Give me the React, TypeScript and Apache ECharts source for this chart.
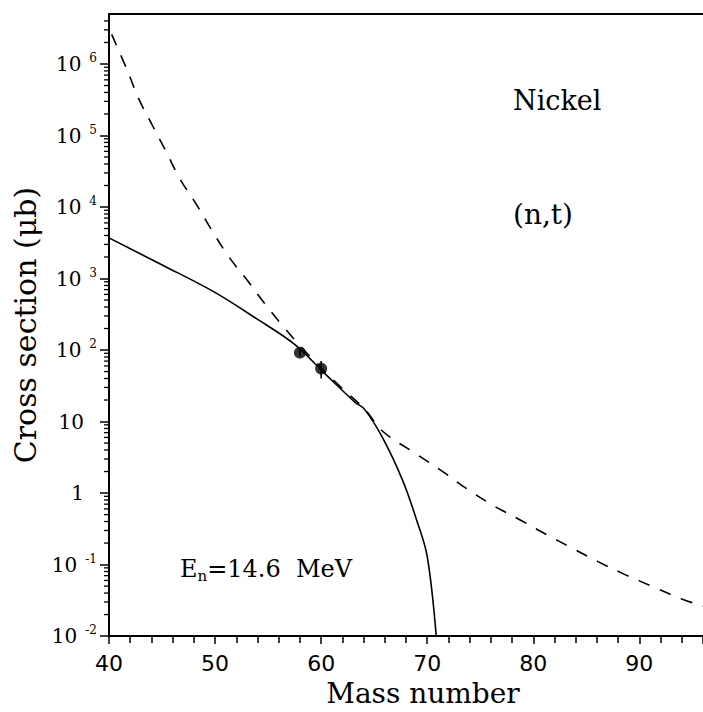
import React, { useEffect, useRef } from "react";
import * as echarts from "echarts";

// Mass number axis
const massMin = 40;
const massMax = 96;
const massInterval = 10;

// Cross section axis (µb, logarithmic)
const sigmaMin = 0.01;
const sigmaMax = 5e6;

// Full calculation (solid line)
const solidMass = [40, 45.2, 49.9, 53.9, 57.5, 60.4, 63.2, 64.1, 65.8, 67.7, 69.0, 70.0, 70.85];
const solidSigma = [3700, 1500, 650, 275, 120, 46, 18.6, 14.8, 5.9, 1.48, 0.42, 0.13, 0.01];

// Systematics (dashed line)
const dashMass = [40.25, 41.7, 42.83, 44.1, 45.4, 46.67, 48.27, 49.7, 51.31, 53.07, 54.66, 56.41, 58, 60, 62, 64.1, 65.85, 69.0, 71.6, 73.8, 76.3, 78.9, 81.4, 83.6, 86.1, 88.6, 91.3, 94.0, 96.5];
const dashSigma = [2.6e6, 8.3e5, 3.2e5, 1.38e5, 5.9e4, 2.5e4, 1.07e4, 4700, 2000, 930, 450, 215, 115, 56, 29, 15, 7.2, 3.5, 1.93, 1.13, 0.66, 0.41, 0.255, 0.172, 0.11, 0.073, 0.049, 0.033, 0.025];

// Measured points with uncertainties
const expMass = [58, 60];
const expSigma = [92, 55];
const expLow = [82, 40];
const expHigh = [102, 70];

// Minor tick positions within each decade
const minorMultipliers = [2, 3, 4, 5, 6, 7, 8, 9];
const decadeExponents = [-2, -1, 0, 1, 2, 3, 4, 5, 6];

const serif = "'DejaVu Serif', 'Liberation Serif', serif";
const sans = "'DejaVu Sans', 'Liberation Sans', sans-serif";

export default function App() {
  const ref = useRef<HTMLDivElement>(null);

  useEffect(() => {
    if (!ref.current) return;
    const chart = echarts.init(ref.current, undefined, { renderer: "svg" });

    const minorTicks: number[][] = [];
    decadeExponents.forEach((e) => {
      minorMultipliers.forEach((m) => {
        const v = m * Math.pow(10, e);
        if (v < sigmaMax) minorTicks.push([massMin, v]);
      });
    });

    const labelFormatter = (value: number) => {
      const lg = Math.log10(value);
      const e = Math.round(lg);
      if (Math.abs(lg - e) > 1e-6) return "";
      if (e === 0) return "{n|1}";
      if (e === 1) return "{n|10}";
      return "{b|10}{e|" + (e < 0 ? "-" + -e : String(e)) + "}";
    };

    chart.setOption({
      animation: false,
      backgroundColor: "#ffffff",
      grid: {
        left: 109,
        top: 14,
        right: 0,
        bottom: 68,
      },
      xAxis: [
        {
          type: "value",
          min: massMin,
          max: massMax,
          interval: massInterval,
          name: "Mass number",
          nameLocation: "middle",
          nameGap: 42,
          nameTextStyle: { fontFamily: serif, fontSize: 28, color: "#000", padding: [0, 0, 0, 34] },
          axisLine: { lineStyle: { color: "#000", width: 2 } },
          axisTick: { length: 8, lineStyle: { color: "#000", width: 1.5 } },
          minorTick: { show: true, splitNumber: 5, length: 7, lineStyle: { color: "#000", width: 1.5 } },
          splitLine: { show: false },
          axisLabel: {
            margin: 16,
            fontFamily: sans,
            fontSize: 22,
            color: "#000",
            showMaxLabel: false,
          },
        },
        {
          // top frame line
          type: "value",
          position: "top",
          min: massMin,
          max: massMax,
          axisLine: { show: true, onZero: false, lineStyle: { color: "#000", width: 2 } },
          axisTick: { show: false },
          axisLabel: { show: false },
          splitLine: { show: false },
        },
      ],
      yAxis: {
        type: "log",
        logBase: 10,
        min: sigmaMin,
        max: sigmaMax,
        name: "Cross section (\u03bcb)",
        nameLocation: "middle",
        nameGap: 66,
        nameTextStyle: { fontFamily: serif, fontSize: 30, color: "#000" },
        axisLine: { lineStyle: { color: "#000", width: 2 } },
        axisTick: { length: 9, lineStyle: { color: "#000", width: 1.5 } },
        splitLine: { show: false },
        axisLabel: {
          margin: 12,
          showMaxLabel: false,
          formatter: labelFormatter,
          rich: {
            b: { fontFamily: serif, fontSize: 20, color: "#000", lineHeight: 24 },
            n: { fontFamily: serif, fontSize: 20, color: "#000", lineHeight: 24, padding: [0, 13, 0, 0] },
            e: { fontFamily: serif, fontSize: 12, color: "#000", lineHeight: 13, verticalAlign: "top", padding: [0, 0, 0, 8] },
          },
        },
      },
      series: [
        {
          type: "custom",
          silent: true,
          clip: false,
          data: minorTicks,
          renderItem: (_params: any, api: any) => {
            const p = api.coord([api.value(0), api.value(1)]);
            return {
              type: "line",
              shape: { x1: p[0] - 5, y1: p[1], x2: p[0], y2: p[1] },
              style: { stroke: "#000", lineWidth: 1.3 },
            };
          },
        },
        {
          type: "line",
          data: solidMass.map((m, i) => [m, solidSigma[i]]),
          smooth: 0.35,
          symbol: "none",
          lineStyle: { color: "#000", width: 1.6 },
        },
        {
          type: "line",
          data: dashMass.map((m, i) => [m, dashSigma[i]]),
          smooth: 0.35,
          symbol: "none",
          lineStyle: { color: "#000", width: 1.6, type: [12, 11] },
        },
        {
          type: "custom",
          silent: true,
          data: expMass.map((m, i) => [m, expLow[i], expHigh[i]]),
          renderItem: (_params: any, api: any) => {
            const lo = api.coord([api.value(0), api.value(1)]);
            const hi = api.coord([api.value(0), api.value(2)]);
            return {
              type: "line",
              shape: { x1: lo[0], y1: lo[1], x2: hi[0], y2: hi[1] },
              style: { stroke: "#000", lineWidth: 1.6 },
            };
          },
        },
        {
          type: "scatter",
          data: expMass.map((m, i) => [m, expSigma[i]]),
          symbol: "circle",
          symbolSize: 12,
          itemStyle: { color: "#000" },
        },
      ],
      graphic: [
        {
          type: "text",
          style: {
            text: "Nickel",
            x: 513,
            y: 100,
            textAlign: "left",
            textVerticalAlign: "middle",
            align: "left",
            verticalAlign: "middle",
            font: "27px " + serif,
            fill: "#000",
          },
        },
        {
          type: "text",
          style: {
            text: "(n,t)",
            x: 513,
            y: 214,
            textAlign: "left",
            textVerticalAlign: "middle",
            align: "left",
            verticalAlign: "middle",
            font: "28px " + serif,
            fill: "#000",
          },
        },
        {
          type: "text",
          x: 180,
          y: 569,
          style: {
            text: "{E|E}{s|n}{t|=14.6  MeV}",
            verticalAlign: "middle",
            textVerticalAlign: "middle",
            rich: {
              E: { fontFamily: serif, fontSize: 24, fill: "#000", color: "#000", lineHeight: 28 },
              s: { fontFamily: serif, fontSize: 15, fill: "#000", color: "#000", lineHeight: 28, verticalAlign: "bottom", padding: [6, 0, 0, 0] },
              t: { fontFamily: serif, fontSize: 24, fill: "#000", color: "#000", lineHeight: 28 },
            },
          },
        },
      ],
    });

    return () => chart.dispose();
  }, []);

  return <div ref={ref} style={{ width: 703, height: 712, position: "absolute", left: 0, top: 0 }} />;
}
